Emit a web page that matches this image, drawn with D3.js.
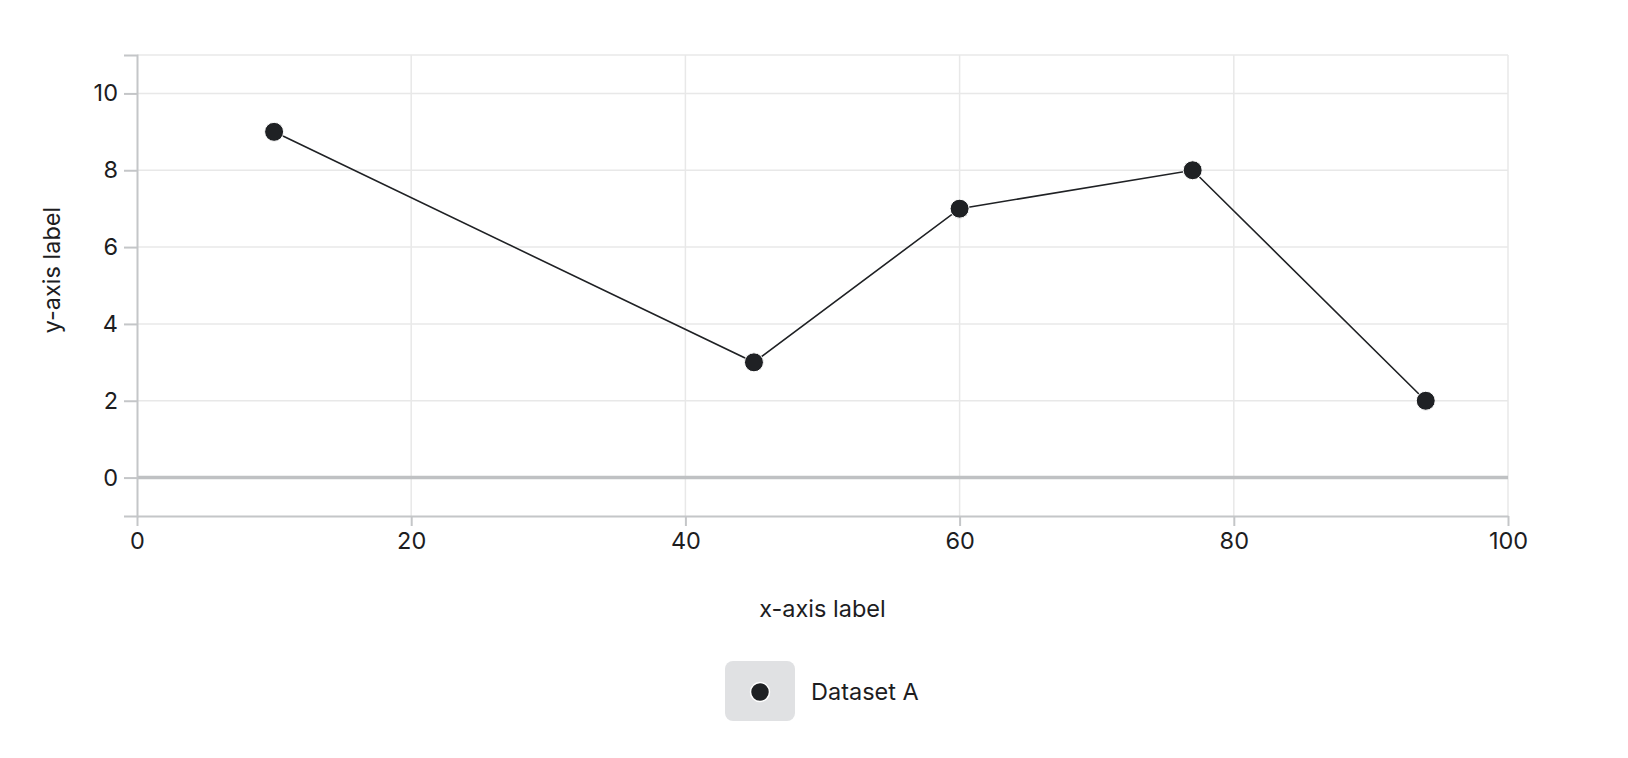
<!DOCTYPE html>
<html>
<head>
<meta charset="utf-8">
<script src="https://cdn.jsdelivr.net/npm/d3@7"></script>
<style>
  body { margin: 0; background: #fff; }
  svg text { font-family: Inter, "Noto Sans", sans-serif; fill: #1d1d1f; }
  .grid line { stroke: #e8e8e8; stroke-width: 1.5; }
  .axis path, .axis line { stroke: #c4c6c8; stroke-width: 2; }
</style>
</head>
<body>
<svg id="chart" width="1628" height="758"></svg>
<script>

let series_name = "Dataset A"
let xs = [10, 45, 60, 77, 94]
let ys = [9, 3, 7, 8, 2]
let x_ticks = [0, 20, 40, 60, 80, 100]
let y_ticks = [0, 2, 4, 6, 8, 10]
let x_range = [0, 100]
let y_range = [-1, 11]

let margin = {left: 137, right: 120, top: 55, bottom: 242}
let width = 1628, height = 758
let plotW = width - margin.left - margin.right
let plotH = height - margin.top - margin.bottom
let fontSize = 23.5

let svg = d3.select('#chart')
let g = svg.append('g')
    .attr('transform', 'translate(' + margin.left + ',' + margin.top + ')')

let x = d3.scaleLinear().domain(x_range).range([0, plotW])
let y = d3.scaleLinear().domain(y_range).range([plotH, 0])

// grid
let grid = g.append('g').attr('class', 'grid')
grid.selectAll('.gx').data(x_ticks.slice(1)).join('line')
    .attr('x1', d => x(d)).attr('x2', d => x(d))
    .attr('y1', 0).attr('y2', plotH)
grid.selectAll('.gy').data(y_ticks.concat([y_range[1]])).join('line')
    .attr('x1', 0).attr('x2', plotW)
    .attr('y1', d => y(d)).attr('y2', d => y(d))

// zero line
g.append('line')
    .attr('x1', 0).attr('x2', plotW)
    .attr('y1', y(0)).attr('y2', y(0))
    .attr('stroke', '#bfc1c3').attr('stroke-width', 3.5)

// axes
let xAxis = g.append('g').attr('class', 'axis')
    .attr('transform', 'translate(0,' + plotH + ')')
    .call(d3.axisBottom(x).tickValues(x_ticks).tickSize(10).tickSizeOuter(0).tickPadding(6))
let yAxis = g.append('g').attr('class', 'axis')
    .call(d3.axisLeft(y).tickValues(y_ticks).tickSize(13).tickPadding(6))

g.selectAll('.axis text').attr('font-size', fontSize).attr('fill', '#1d1d1f')
    .style('font-family', 'Inter, "Noto Sans", sans-serif')

// axis labels
svg.append('text')
    .attr('x', margin.left + plotW / 2)
    .attr('y', 609)
    .attr('dy', '0.35em')
    .attr('text-anchor', 'middle')
    .attr('font-size', fontSize)
    .text('x-axis label')

svg.append('text')
    .attr('transform', 'translate(52,270) rotate(-90)')
    .attr('dy', '0.35em')
    .attr('text-anchor', 'middle')
    .attr('font-size', fontSize)
    .text('y-axis label')

// line + points
let pts = xs.map((d, i) => [d, ys[i]])
let lineFunc = d3.line().x(d => x(d[0])).y(d => y(d[1]))

g.append('path')
    .attr('fill', 'none')
    .attr('stroke', '#1f2124')
    .attr('stroke-width', 1.6)
    .attr('d', lineFunc(pts))

g.selectAll('.pt').data(pts).join('circle')
    .attr('cx', d => x(d[0]))
    .attr('cy', d => y(d[1]))
    .attr('r', 9.5)
    .attr('fill', '#1f2124')
    .attr('stroke', '#fff')
    .attr('stroke-width', 1)

// legend
let leg = svg.append('g').attr('transform', 'translate(725,661)')
leg.append('rect')
    .attr('width', 70).attr('height', 60).attr('rx', 8)
    .attr('fill', '#e0e1e3')
leg.append('circle')
    .attr('cx', 35).attr('cy', 31).attr('r', 9.5)
    .attr('fill', '#1f2124').attr('stroke', '#fff').attr('stroke-width', 1.5)
leg.append('text')
    .attr('x', 86).attr('y', 31).attr('dy', '0.35em')
    .attr('font-size', fontSize)
    .text(series_name)

</script>
</body>
</html>
